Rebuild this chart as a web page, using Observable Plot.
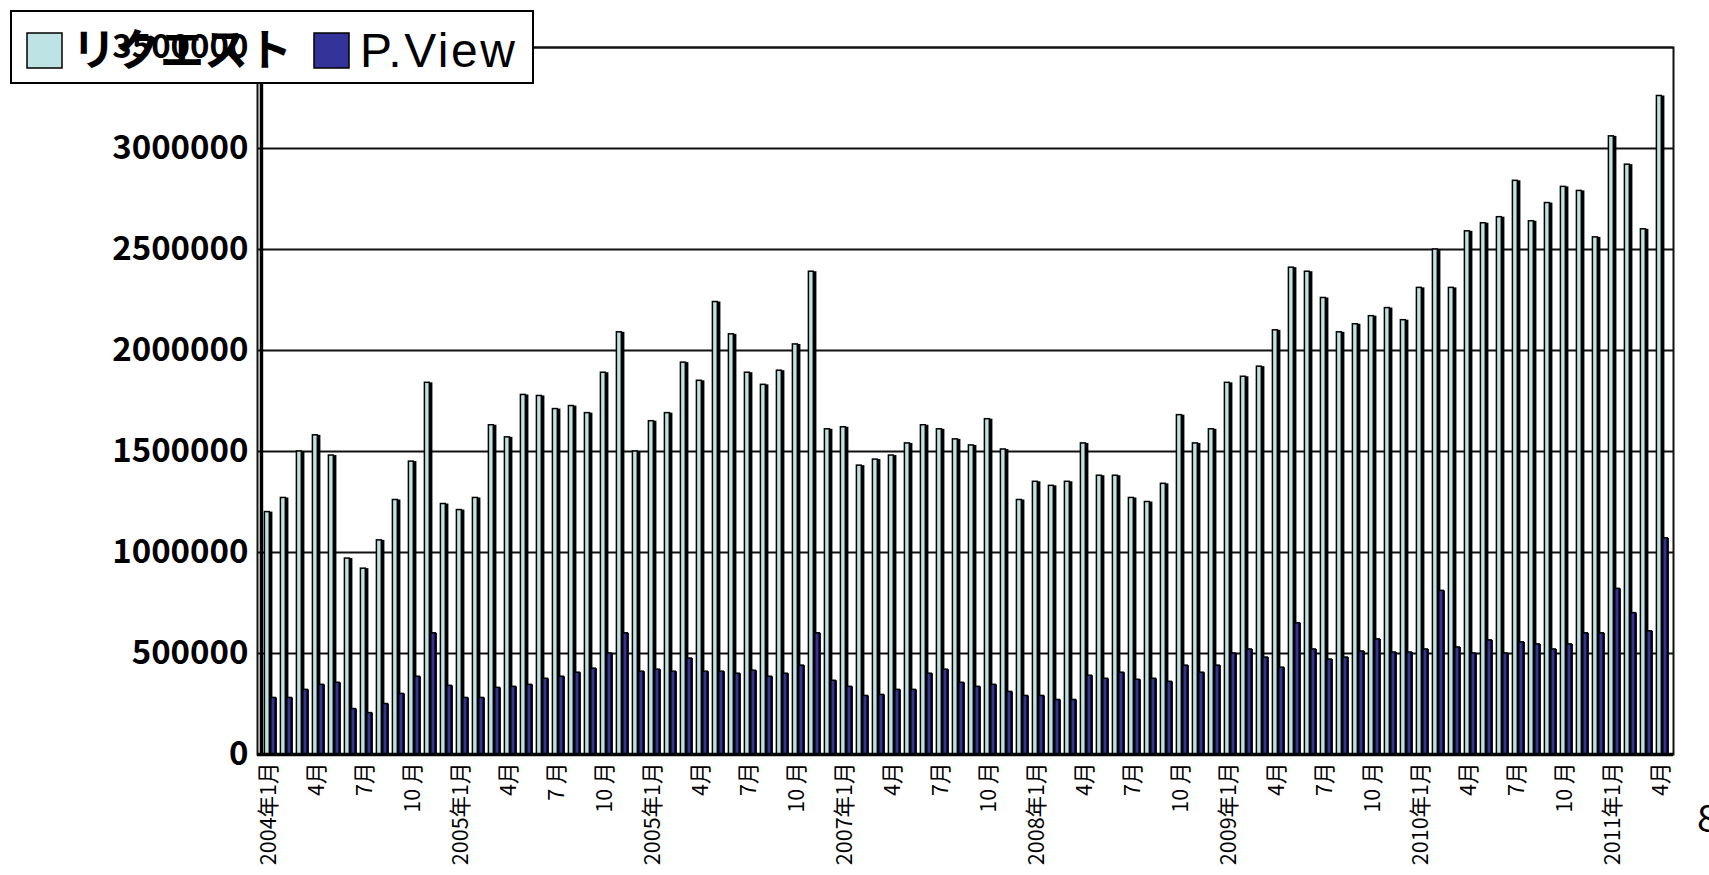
<!DOCTYPE html>
<html>
<head>
<meta charset="utf-8">
<script src="https://cdn.jsdelivr.net/npm/d3@7"></script>
<script src="https://cdn.jsdelivr.net/npm/@observablehq/plot@0.6"></script>
<style>
  html, body { margin: 0; padding: 0; background: #fff; overflow: hidden; }
  #wrap { position: relative; width: 1709px; height: 875px; }
  #page { position: absolute; left: 1697px; top: 788px; font: 38px "Noto Sans CJK JP", sans-serif; color: #000; }
</style>
</head>
<body>
<div id="wrap"><div id="chart"></div><div id="page">8</div></div>
<script>
// ---- data ----
const years = [2004, 2005, 2006, 2007, 2008, 2009, 2010, 2011];
const seriesNames = ["リクエスト", "P.View"];
const requests = [
  1200000, 1270000, 1500000, 1580000, 1480000, 970000, 920000, 1060000, 1260000, 1450000, 1840000, 1240000,
  1210000, 1270000, 1630000, 1570000, 1780000, 1775000, 1710000, 1725000, 1690000, 1890000, 2090000, 1500000,
  1650000, 1690000, 1940000, 1850000, 2240000, 2080000, 1890000, 1830000, 1900000, 2030000, 2390000, 1610000,
  1620000, 1430000, 1460000, 1480000, 1540000, 1630000, 1610000, 1560000, 1530000, 1660000, 1510000, 1260000,
  1350000, 1330000, 1350000, 1540000, 1380000, 1380000, 1270000, 1250000, 1340000, 1680000, 1540000, 1610000,
  1840000, 1870000, 1920000, 2100000, 2410000, 2390000, 2260000, 2090000, 2130000, 2170000, 2210000, 2150000,
  2310000, 2500000, 2310000, 2590000, 2630000, 2660000, 2840000, 2640000, 2730000, 2810000, 2790000, 2560000,
  3060000, 2920000, 2600000, 3260000
];
const pviews = [
  280000, 280000, 320000, 345000, 355000, 225000, 205000, 250000, 300000, 385000, 600000, 340000,
  280000, 280000, 330000, 335000, 345000, 375000, 385000, 405000, 425000, 500000, 600000, 410000,
  420000, 410000, 475000, 410000, 410000, 400000, 415000, 385000, 400000, 440000, 600000, 365000,
  335000, 290000, 295000, 320000, 320000, 400000, 420000, 355000, 335000, 345000, 310000, 290000,
  290000, 270000, 270000, 390000, 375000, 405000, 370000, 375000, 360000, 440000, 405000, 440000,
  500000, 520000, 480000, 430000, 650000, 520000, 470000, 480000, 510000, 570000, 505000, 505000,
  520000, 810000, 530000, 500000, 565000, 500000, 555000, 545000, 520000, 545000, 600000, 600000,
  820000, 700000, 610000, 1070000
];
const yTicks = [0, 500000, 1000000, 1500000, 2000000, 2500000, 3000000, 3500000];
const xTickLabels = [
  "2004年1月", "4月", "7月", "10 月",
  "2005年1月", "4月", "7 月", "10 月",
  "2005年1月", "4月", "7月", "10 月",
  "2007年1月", "4月", "7月", "10 月",
  "2008年1月", "4月", "7月", "10 月",
  "2009年1月", "4月", "7月", "10 月",
  "2010年1月", "4月", "7月", "10 月",
  "2011年1月", "4月"
];
const colors = ["#bde3e5", "#333399"];

// ---- table ----
const months = [];
years.forEach(y => { for (let m = 1; m <= 12; m++) months.push(`${y}-${String(m).padStart(2, "0")}`); });
const monthKeys = months.slice(0, requests.length);
const rows = monthKeys.map((k, i) => ({ k, req: requests[i], pv: pviews[i] }));
const tickKeys = monthKeys.filter((k, i) => i % 3 === 0);
const labelOf = new Map(tickKeys.map((k, i) => [k, xTickLabels[i]]));

const W = 1709, H = 875, ML = 257, MR = 36, MT = 47, MB = 121;
const bw = (W - ML - MR) / monthKeys.length;

const svg = Plot.plot({
  width: W, height: H,
  marginLeft: ML, marginRight: MR, marginTop: MT, marginBottom: MB,
  style: { fontFamily: "'Noto Sans CJK JP', sans-serif", background: "#fff", color: "#000" },
  x: { type: "band", domain: monthKeys, padding: 0, axis: null, label: null },
  y: { domain: [0, 3500000], axis: null, label: null },
  marks: [
    Plot.ruleY(yTicks, { stroke: "#111", strokeWidth: 2 }),
    Plot.frame({ stroke: "#111", strokeWidth: 2 }),
    // リクエスト: 3D side (dark) + face
    Plot.barY(rows, { x: "k", y: "req", fill: "#000", insetLeft: 3, insetRight: bw - 11.5 }),
    Plot.barY(rows, { x: "k", y: "req", fill: colors[0], stroke: "#000", strokeWidth: 1.5, insetLeft: 3.4, insetRight: bw - 8.4 }),
    // P.View: 3D side (dark) + face
    Plot.barY(rows, { x: "k", y: "pv", fill: "#000", insetLeft: 9.4, insetRight: bw - 16 }),
    Plot.barY(rows, { x: "k", y: "pv", fill: colors[1], stroke: "#000", strokeWidth: 1.5, insetLeft: 9.8, insetRight: bw - 14.3 }),
    Plot.ruleY([0], { stroke: "#000", strokeWidth: 3.5 }),
    Plot.ruleX([monthKeys[0]], { stroke: "#000", strokeWidth: 3.5, dx: -bw / 2 }),
    Plot.axisX({
      ticks: tickKeys, tickFormat: k => labelOf.get(k), rotate: -90, textAnchor: "end",
      tickSize: 0, tickPadding: 8, fontSize: 21.5, fill: "#000", label: null, dx: -9,
      style: { letterSpacing: "3px" }
    }),
    Plot.axisY({
      ticks: yTicks, tickFormat: d => String(d), tickSize: 0, tickPadding: 9, label: null,
      fontSize: 33, fontWeight: "bold", fill: "#000"
    })
  ]
});

// legend (drawn over the plot frame, under the y tick labels)
const lg = d3.create("svg:g").attr("aria-label", "legend").attr("text-anchor", "start");
lg.append("rect").attr("x", 11).attr("y", 11).attr("width", 522).attr("height", 72)
  .attr("fill", "#fff").attr("stroke", "#000").attr("stroke-width", 2);
lg.append("rect").attr("x", 27).attr("y", 33).attr("width", 35).attr("height", 35)
  .attr("fill", colors[0]).attr("stroke", "#000").attr("stroke-width", 1.5);
lg.append("text").attr("x", 72).attr("y", 66).attr("font-size", 44).attr("font-weight", "bold")
  .attr("text-anchor", "start")
  .attr("font-family", "'Noto Sans CJK JP', sans-serif").attr("fill", "#000").text(seriesNames[0]);
lg.append("rect").attr("x", 314).attr("y", 33).attr("width", 35).attr("height", 35)
  .attr("fill", colors[1]).attr("stroke", "#000").attr("stroke-width", 1.5);
lg.append("text").attr("x", 360).attr("y", 67).attr("font-size", 48).attr("letter-spacing", "2.5px")
  .attr("text-anchor", "start")
  .attr("font-family", "'Liberation Sans', Arial, sans-serif").attr("fill", "#000").text(seriesNames[1]);
const yLab = svg.querySelector('[aria-label="y-axis tick label"]');
if (yLab) svg.insertBefore(lg.node(), yLab); else svg.appendChild(lg.node());

document.getElementById("chart").appendChild(svg);
</script>
</body>
</html>
